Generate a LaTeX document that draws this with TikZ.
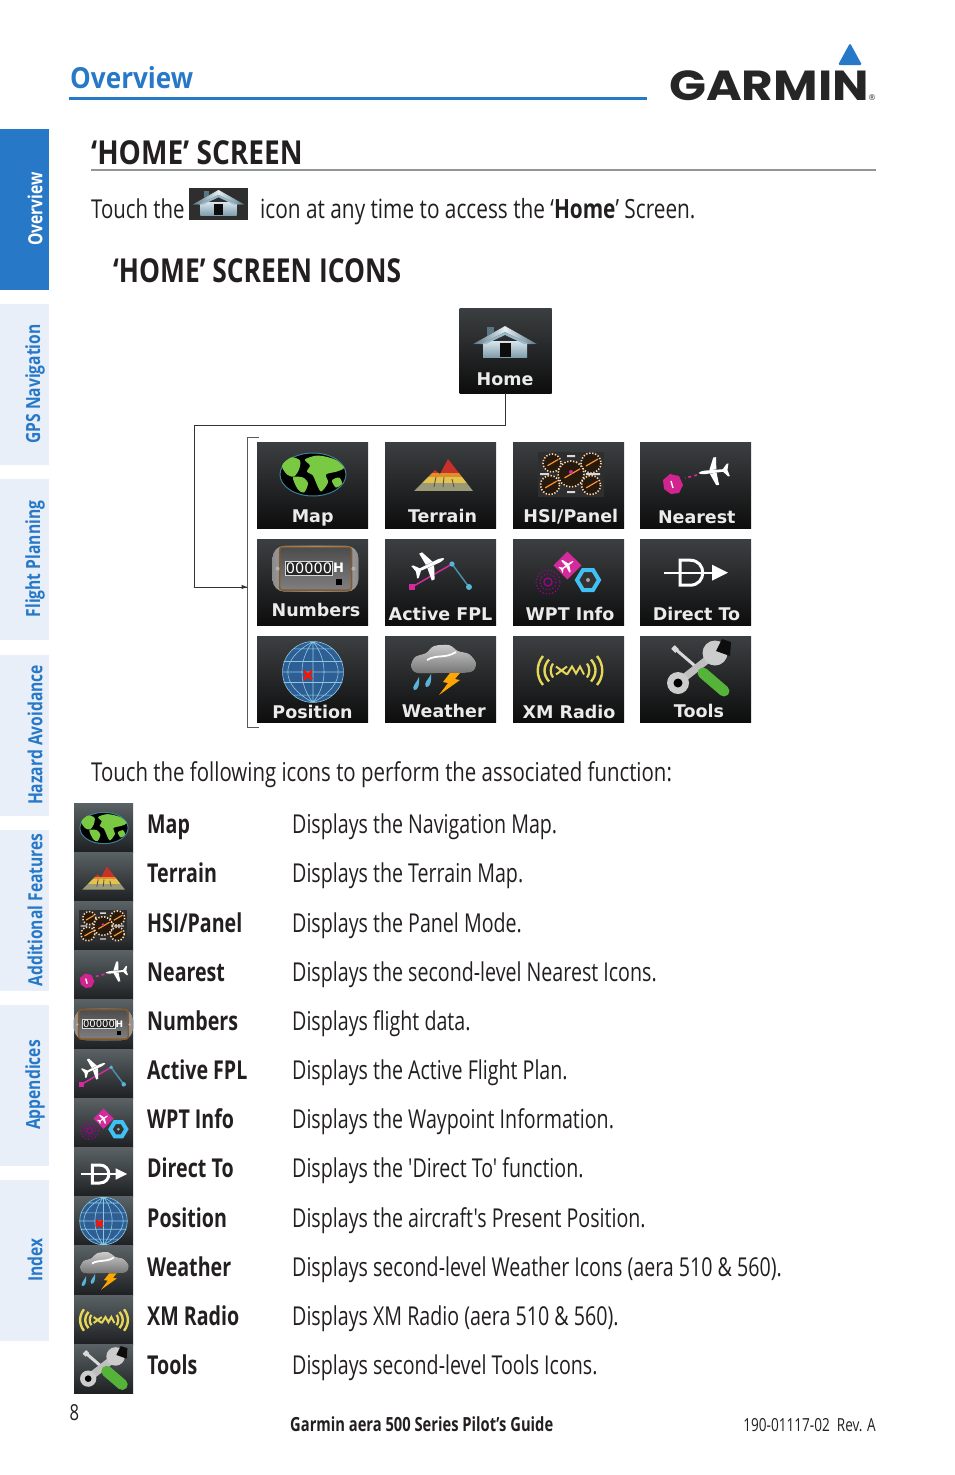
\documentclass[tikz,border=0pt]{standalone}
\usepackage{fontspec}
\setmainfont{Open Sans}
\newfontfamily\bodyfont[FakeStretch=0.755]{Open Sans}
\newfontfamily\parafont[FakeStretch=0.785]{Open Sans}
\newfontfamily\titlefont[FakeStretch=0.85]{Open Sans}
\newfontfamily\subtitlefont[FakeStretch=0.80]{Open Sans}
\newfontfamily\headfont[FakeStretch=0.90]{Open Sans}
\newfontfamily\tabfont[FakeStretch=0.80]{Open Sans}
\newfontfamily\buttonfont{DejaVu Sans}
\newfontfamily\logofont[FakeStretch=1.155]{Poppins}
\definecolor{garminblue}{HTML}{2878C8}
\definecolor{tabpale}{HTML}{E8EFF8}
\definecolor{inkgray}{HTML}{231F20}
\definecolor{rulegray}{HTML}{939598}
\definecolor{glow}{HTML}{3C3F41}
\definecolor{coal}{HTML}{0D0D0D}
\definecolor{listglow}{HTML}{5A6265}
\definecolor{listcoal}{HTML}{1E2022}
\definecolor{earth}{HTML}{7AC943}
\definecolor{hotpink}{HTML}{D42A9C}
\definecolor{skyblue}{HTML}{58B4D8}
\definecolor{housetone}{HTML}{7FA8BC}
\definecolor{globeblue}{HTML}{2E5E93}
\definecolor{xmyellow}{HTML}{E6D75A}
\definecolor{peakred}{HTML}{C8312A}
\definecolor{peakorange}{HTML}{DE8F2B}
\definecolor{peakyellow}{HTML}{E4C24E}
\definecolor{peaktan}{HTML}{9A9A78}
\definecolor{handlegreen}{HTML}{55B33A}
\tikzset{
	tabon/.style={rectangle, fill=garminblue, minimum width=49, minimum height=161, inner sep=0},
	taboff/.style={rectangle, fill=tabpale, minimum width=49, minimum height=161, inner sep=0},
	tabtext/.style={rotate=90, inner sep=0, font=\tabfont\bfseries\fontsize{19.5}{20}\selectfont, text=garminblue},
	iconbox/.style={rectangle, top color=glow, middle color=coal, bottom color=coal, minimum width=111, minimum height=86, inner sep=0},
	listbox/.style={rectangle, top color=listglow, middle color=listcoal, bottom color=listcoal, minimum width=59, minimum height=49.2, inner sep=0},
	buttontext/.style={inner sep=0, anchor=base, text=white!92!black, font=\buttonfont\bfseries\fontsize{17.5}{18}\selectfont},
	rowname/.style={anchor=base west, inner sep=0, text=inkgray, font=\bodyfont\bfseries\fontsize{26}{26}\selectfont},
	rowtext/.style={anchor=base west, inner sep=0, text=inkgray, font=\bodyfont\fontsize{26}{26}\selectfont},
	paratext/.style={anchor=base west, inner sep=0, text=inkgray, font=\parafont\fontsize{26}{26}\selectfont},
	connector/.style={draw=black!80, line width=1},
	pics/house/.style={code={
		\fill[top color=white!70!housetone, bottom color=housetone!75!gray] (-22,-1) rectangle (22,15);
		\fill[coal] (-5.5,1) rectangle (5.5,15);
		\fill[housetone!70!black] (-18,-15) rectangle (-11,-4);
		\fill[left color=housetone!70!black, right color=housetone!70!black, middle color=white!80!housetone] (-32,2) -- (0,-16) -- (32,2) -- (24,2) -- (0,-10) -- (-24,2) -- cycle;
		\fill[housetone!80!white] (-24,2) -- (0,-10) -- (24,2) -- (19,2) -- (0,-7) -- (-19,2) -- cycle;
	}},
	pics/plane/.style={code={
		\fill[white] (-24,-2) -- (14,-3) .. controls (20,-3) and (25,-1) .. (25,0) .. controls (25,1) and (20,3) .. (14,3) -- (-24,2) -- cycle;
		\fill[white] (6,-3) -- (-3,-24) -- (-8,-24) -- (-6,-3) -- cycle;
		\fill[white] (6,3) -- (-3,24) -- (-8,24) -- (-6,3) -- cycle;
		\fill[white] (-17,-2) -- (-25,-11) -- (-28,-11) -- (-25,0) -- (-28,11) -- (-25,11) -- (-17,2) -- cycle;
	}},
	pics/mapglyph/.style={code={
		\fill[black] (0,0) ellipse [x radius=33, y radius=21.5];
		\draw[skyblue!70!black, line width=1] (0,0) ellipse [x radius=33, y radius=21.5];
		\fill[earth] plot[smooth cycle] coordinates {(-31,-9) (-22,-17) (-13,-14) (-14,-5) (-19,2) (-26,0)};
		\fill[earth] plot[smooth cycle] coordinates {(-20,3) (-10,3) (-5,9) (-9,18) (-15,15)};
		\fill[earth] plot[smooth cycle] coordinates {(-8,-15) (5,-19) (22,-15) (31,-7) (24,-3) (13,0) (15,8) (8,17) (3,8) (0,1) (-6,-3) (-3,-9)};
		\fill[earth] plot[smooth cycle] coordinates {(19,6) (26,3) (29,9) (23,13)};
	}},
	pics/terrainglyph/.style={code={
		\begin{scope}
			\clip (-30,16) -- (-9,-5) -- (-4,-1) -- (4,-16) -- (29,16) -- cycle;
			\fill[peakred] (-32,-20) rectangle (32,-2);
			\fill[peakorange] (-32,-2) rectangle (32,2);
			\fill[peakyellow] (-32,2) rectangle (32,8);
			\fill[peaktan] (-32,8) rectangle (32,16);
		\end{scope}
		\draw[black!70, line width=.8] (-8,2) -- (-10,12) (0,2) -- (-1,12) (8,4) -- (10,12);
	}},
	pics/gaugedial/.style={code={
		\fill[black!80!brown] (0,0) circle [radius=#1];
		\draw[white!70!orange, line width=1.6, dash pattern=on 1.3 off 1.7] (0,0) circle [radius=#1];
		\draw[orange!85!white, line width=1.2] (-#1*.5,#1*.3) -- (#1*.7,-#1*.4);
	}},
	pics/hsiglyph/.style={code={
		\fill[black!82] (-33,-22) rectangle (33,22.5);
		\pic at (-19,-11) {gaugedial=9};
		\pic at (20,-11) {gaugedial=10};
		\pic at (-21,11) {gaugedial=9.5};
		\pic at (20,11) {gaugedial=9.5};
		\pic at (0,0) {gaugedial=13};
		\fill[hotpink] (0,-2) circle [radius=2];
		\fill[white!85!black] (-4,-19) rectangle (4,-17) (-4,17) rectangle (4,19) (-31,-1) rectangle (-22,1) (15,-1) rectangle (29,1);
	}},
	pics/nearestglyph/.style={code={
		\pic[scale=.58, rotate=186] at (18,-11.5) {plane};
		\draw[hotpink, line width=1.6, dashed] (2,-8) -- (-10,-5);
		\fill[hotpink!85!purple] (-32,-3) -- (-25,-9) -- (-16,-7) -- (-12,2) -- (-16,10) -- (-24,11) -- (-31,6) -- cycle;
		\draw[white, line width=1.4] (-24,-2) -- (-22,5);
	}},
	pics/numbersglyph/.style={code={
		\fill[left color=black!45, right color=black!45, middle color=white!85!black, rounded corners=12] (-43,-23) rectangle (43,23);
		\fill[top color=black!70, bottom color=black!50, draw=brown!70!black, line width=1.5, rounded corners=3] (-36,-21.5) rectangle (36,21.5);
		\fill[black!85, draw=white!85!black, line width=.8] (-30,-7.5) rectangle (17,6.5);
		\node[inner sep=0, text=white, font=\buttonfont\fontsize{14.5}{14}\selectfont] (digits) at (-6.5,-.5) {00000};
		\node[inner sep=0, font=\buttonfont\bfseries\fontsize{13}{14}\selectfont, text=white] (hours) at (23,-.5) {H};
		\fill[black!30] (-38,0) circle [radius=2] (38,0) circle [radius=2];
		\fill[black] (20,10) rectangle (26,16);
	}},
	pics/fplglyph/.style={code={
		\draw[hotpink, line width=1.5] (-29,18) -- (11,-5);
		\draw[skyblue!80!black, line width=1.5] (11,-5) -- (28,18);
		\fill[hotpink] (-32,15) rectangle (-26,21);
		\fill[skyblue] (28,18) circle [radius=3];
		\fill[skyblue] (11,-5) circle [radius=2.6];
		\pic[scale=.62, rotate=25] at (-11,-4) {plane};
	}},
	pics/wptglyph/.style={code={
		\fill[hotpink] (-.7,-18.5) -- (13.5,-4.7) -- (-.7,9.5) -- (-14.5,-4.7) -- cycle;
		\pic[scale=.3, rotate=35] at (-.7,-4.7) {plane};
		\draw[cyan!75!white, line width=4, fill=black!80] (9,10) -- (15,0) -- (25,0) -- (31,10) -- (25,20) -- (15,20) -- cycle;
		\fill[black!35] (20,10) circle [radius=2];
		\draw[violet!80!hotpink, line width=1.3, dotted] (-20,12) circle [radius=12];
		\draw[violet!80!hotpink, line width=1.3, dotted] (-20,12) circle [radius=8];
		\draw[violet!80!hotpink, line width=1.5] (-20,12) circle [radius=4];
	}},
	pics/directglyph/.style={code={
		\draw[white, line width=2.2] (-32,0) -- (18,0);
		\draw[white, line width=3] (-16,-12.5) -- (-6,-12.5) .. controls (11,-12.5) and (11,12.5) .. (-6,12.5) -- (-16,12.5) -- cycle;
		\fill[white] (16,-8) -- (32,0) -- (16,8) -- cycle;
	}},
	pics/positionglyph/.style={code={
		\fill[globeblue] (0,0) circle [radius=29];
		\draw[skyblue!70!white, line width=.6] (0,0) circle [radius=29]
			(-28,-10) -- (28,-10) (-29,0) -- (29,0) (-28,10) -- (28,10) (-19,-22) -- (19,-22) (-19,22) -- (19,22)
			(0,-29) -- (0,29) (0,-29) .. controls (-14,-12) and (-14,12) .. (0,29) (0,-29) .. controls (14,-12) and (14,12) .. (0,29)
			(0,-29) .. controls (-32,-12) and (-32,12) .. (0,29) (0,-29) .. controls (32,-12) and (32,12) .. (0,29);
		\draw[red!85!orange, line width=2.6] (-9,-1) -- (-1,7) (-9,7) -- (-1,-1);
	}},
	pics/weatherglyph/.style={code={
		\fill[top color=white!80!black, bottom color=black!55] plot[smooth cycle] coordinates {(-32,-4) (-28,-13) (-17,-17) (-9,-24) (6,-25) (15,-19) (26,-16) (33,-7) (28,2) (0,3) (-26,3)};
		\draw[white, line width=1.8] (-16,-10) .. controls (-6,-16) and (2,-11) .. (13,-18);
		\fill[skyblue] (-24,7) .. controls (-26,12) and (-32,17) .. (-29,20) .. controls (-25,21) and (-23,14) .. (-24,7) -- cycle;
		\fill[skyblue] (-12,4) .. controls (-14,9) and (-20,13) .. (-17,17) .. controls (-13,18) and (-11,11) .. (-12,4) -- cycle;
		\fill[orange!70!yellow] (7,3) -- (17,3) -- (12,9) -- (17,10) -- (-4,25) -- (5,13) -- (0,12) -- cycle;
	}},
	pics/xmglyph/.style={code={
		\draw[xmyellow, line width=2.4] (-27,-14.5) .. controls (-34,-6) and (-34,6) .. (-27,14.5) (27,-14.5) .. controls (34,-6) and (34,6) .. (27,14.5);
		\draw[xmyellow, line width=2.4] (-21,-11) .. controls (-27,-4) and (-27,4) .. (-21,11) (21,-11) .. controls (27,-4) and (27,4) .. (21,11);
		\draw[xmyellow, line width=2.2] (-17,-7) .. controls (-20,-3) and (-20,3) .. (-17,7) (17,-7) .. controls (20,-3) and (20,3) .. (17,7);
		\draw[xmyellow, line width=2] (-14,-4) -- (-3,4) (-14,4) -- (-3,-4) (-3,4) -- (2,-4) -- (6,3) -- (10,-4) -- (14,4);
	}},
	pics/toolsglyph/.style={code={
		\draw[white!85!black, line width=3] (-25,-23) -- (4,2);
		\draw[white!85!black, line width=5] (-25,-23) -- (-21,-19);
		\draw[white!75!black, line width=7.5] (-18,11) -- (14,-14);
		\fill[white!80!black] (-20,13) circle [radius=11];
		\fill[black] (-20,13) circle [radius=4.5];
		\fill[white!80!black] (17,-17) circle [radius=12.5];
		\fill[coal] (18,-19) -- (24,-31) -- (33,-28) -- (32,-14) -- cycle;
		\draw[handlegreen, line width=11, line cap=round] (5,3) -- (26,21);
	}}
}
\begin{document}
\begin{tikzpicture}[x=1pt, y=-1pt]
	\useasboundingbox (0,0) rectangle (954,1475);

	% header
	\node[anchor=base west, inner sep=0, text=garminblue, font=\headfont\bfseries\fontsize{29}{29}\selectfont] (overview) at (70,88) {Overview};
	\coordinate (headleft) at (69,98);
	\coordinate (headright) at (647,98);
	\draw[garminblue, line width=3] (headleft) -- (headright);
	\node[anchor=base west, inner sep=0, text=black!85, font=\logofont\bfseries\fontsize{42}{42}\selectfont] (garmin) at (669,100) {GARMIN};
	\node[anchor=base west, inner sep=0, text=black!85, font=\buttonfont\fontsize{8}{8}\selectfont] (regmark) at (868,100.5) {®};
	\fill[garminblue, rounded corners=1.5] (850,43) -- (862,65) -- (838,65) -- cycle;

	% tabs
	\node[tabon] (tab1) at (24.5,209.5) {};
	\node[taboff] (tab2) at (24.5,384.5) {};
	\node[taboff] (tab3) at (24.5,559.5) {};
	\node[taboff] (tab4) at (24.5,735) {};
	\node[taboff] (tab5) at (24.5,910) {};
	\node[taboff] (tab6) at (24.5,1085) {};
	\node[taboff] (tab7) at (24.5,1260) {};
	\node[tabtext, text=white] at (35,209) {Overview};
	\node[tabtext] at (35,384) {GPS Navigation};
	\node[tabtext] at (35,559) {Flight Planning};
	\node[tabtext] at (35,735) {Hazard Avoidance};
	\node[tabtext] at (35,910) {Additional Features};
	\node[tabtext] at (35,1085) {Appendices};
	\node[tabtext] at (35,1260) {Index};

	% title lines
	\node[anchor=base west, inner sep=0, text=inkgray, font=\titlefont\bfseries\fontsize{33}{33}\selectfont] (title) at (91,164) {‘HOME’ SCREEN};
	\coordinate (titleleft) at (91,170);
	\coordinate (titleright) at (876,170);
	\draw[rulegray, line width=1.5] (titleleft) -- (titleright);
	\node[paratext] (touch) at (91,218) {Touch the};
	\node[rectangle, fill=black!82, minimum width=59, minimum height=32, inner sep=0] (smallhome) at (218.5,204) {};
	\pic[scale=.82, transform shape] at (218.5,203) {house};
	\node[paratext, font=\parafont\fontsize{26.5}{26}\selectfont] (access) at (260,218) {icon at any time to access the ‘\textbf{Home}’ Screen.};
	\node[anchor=base west, inner sep=0, text=inkgray, font=\subtitlefont\bfseries\fontsize{33}{33}\selectfont] (subtitle) at (113,282) {‘HOME’ SCREEN ICONS};

	% home button
	\node[iconbox, minimum width=92, minimum height=85] (home) at (505.5,350.5) {};
	\pic at (505,342) {house};
	\node[buttontext] (homelabel) at (505,385) {Home};

	% button grid
	\node[iconbox] (map) at (312.5,485) {};
	\node[iconbox] (terrain) at (440.5,485) {};
	\node[iconbox] (hsi) at (568.5,485) {};
	\node[iconbox] (nearest) at (695.5,485) {};
	\node[iconbox] (numbers) at (312.5,582.5) {};
	\node[iconbox] (fpl) at (440.5,582.5) {};
	\node[iconbox] (wpt) at (568.5,582.5) {};
	\node[iconbox] (direct) at (695.5,582.5) {};
	\node[iconbox] (position) at (312.5,679.5) {};
	\node[iconbox] (weather) at (440.5,679.5) {};
	\node[iconbox] (xm) at (568.5,679.5) {};
	\node[iconbox] (tools) at (695.5,679.5) {};

	\pic at (313,474.5) {mapglyph};
	\pic at (444,475) {terrainglyph};
	\pic at (571,474) {hsiglyph};
	\pic at (695,483) {nearestglyph};
	\pic at (315.5,568.7) {numbersglyph};
	\pic at (441,569) {fplglyph};
	\pic at (568,570) {wptglyph};
	\pic at (696,572.7) {directglyph};
	\pic[scale=1.05] at (313,672) {positionglyph};
	\pic at (443,670) {weatherglyph};
	\pic at (570,670.5) {xmglyph};
	\pic at (698,670) {toolsglyph};

	\node[buttontext] at (312.7,522) {Map};
	\node[buttontext] at (442.5,522) {Terrain};
	\node[buttontext] at (570.8,522) {HSI/Panel};
	\node[buttontext] at (696.8,523) {Nearest};
	\node[buttontext] at (316,616.3) {Numbers};
	\node[buttontext] at (440.5,620) {Active FPL};
	\node[buttontext] at (570,620) {WPT Info};
	\node[buttontext] at (696.5,620) {Direct To};
	\node[buttontext] at (312.5,718) {Position};
	\node[buttontext] at (443.8,717) {Weather};
	\node[buttontext] at (569,718) {XM Radio};
	\node[buttontext] at (699,717) {Tools};

	% connector
	\coordinate (turnleft) at (194.5,425);
	\coordinate (grouptop) at (259,437);
	\coordinate (groupbottom) at (259,727);
	\coordinate (groupcorner) at (247.5,437);
	\coordinate (groupend) at (247.5,727);
	\coordinate (groupin) at (247.5,587);
	\draw[connector] (home.south) |- (turnleft) |- (groupin);
	\draw[connector, -latex] (turnleft |- groupin) -- (groupin);
	\draw[connector, black!65] (grouptop) -- (groupcorner) -- (groupend) -- (groupbottom);

	\node[paratext] (follow) at (91,781) {Touch the following icons to perform the associated function:};

	% list rows
	\node[listbox] (row1) at (103.5,827.6) {};
	\node[listbox] (row2) at (103.5,876.8) {};
	\node[listbox] (row3) at (103.5,926) {};
	\node[listbox] (row4) at (103.5,975.2) {};
	\node[listbox] (row5) at (103.5,1024.4) {};
	\node[listbox] (row6) at (103.5,1073.6) {};
	\node[listbox] (row7) at (103.5,1122.8) {};
	\node[listbox] (row8) at (103.5,1172) {};
	\node[listbox] (row9) at (103.5,1221.2) {};
	\node[listbox] (row10) at (103.5,1270.4) {};
	\node[listbox] (row11) at (103.5,1319.6) {};
	\node[listbox] (row12) at (103.5,1368.8) {};

	\pic[scale=.73, transform shape] at (104,828) {mapglyph};
	\pic[scale=.72, transform shape] at (104,878) {terrainglyph};
	\pic[scale=.72, transform shape] at (103,926) {hsiglyph};
	\pic[scale=.72, transform shape] at (103,980) {nearestglyph};
	\pic[scale=.69, transform shape] at (103.5,1024.4) {numbersglyph};
	\pic[scale=.74, transform shape] at (103,1071) {fplglyph};
	\pic[scale=.72, transform shape] at (104,1122) {wptglyph};
	\pic[scale=.72, transform shape] at (104,1174) {directglyph};
	\pic[scale=.82, transform shape] at (103.5,1221) {positionglyph};
	\pic[scale=.75, transform shape] at (104,1271) {weatherglyph};
	\pic[scale=.74, transform shape] at (104,1320) {xmglyph};
	\pic[scale=.74, transform shape] at (103,1369) {toolsglyph};

	\node[rowname] at (147,833) {Map};
	\node[rowname] at (147,882) {Terrain};
	\node[rowname] at (147,932) {HSI/Panel};
	\node[rowname] at (147,981) {Nearest};
	\node[rowname] at (147,1030) {Numbers};
	\node[rowname] at (147,1079) {Active FPL};
	\node[rowname] at (147,1128) {WPT Info};
	\node[rowname] at (147,1177) {Direct To};
	\node[rowname] at (147,1227) {Position};
	\node[rowname] at (147,1276) {Weather};
	\node[rowname] at (147,1325) {XM Radio};
	\node[rowname] at (147,1374) {Tools};

	\node[rowtext] at (292,833) {Displays the Navigation Map.};
	\node[rowtext] at (292,882) {Displays the Terrain Map.};
	\node[rowtext] at (292,932) {Displays the Panel Mode.};
	\node[rowtext] at (292,981) {Displays the second-level Nearest Icons.};
	\node[rowtext] at (292,1030) {Displays flight data.};
	\node[rowtext] at (292,1079) {Displays the Active Flight Plan.};
	\node[rowtext] at (292,1128) {Displays the Waypoint Information.};
	\node[rowtext] at (292,1177) {Displays the 'Direct To' function.};
	\node[rowtext] at (292,1227) {Displays the aircraft's Present Position.};
	\node[rowtext] at (292,1276) {Displays second-level Weather Icons (aera 510 \& 560).};
	\node[rowtext] at (292,1325) {Displays XM Radio (aera 510 \& 560).};
	\node[rowtext] at (292,1374) {Displays second-level Tools Icons.};

	% footer
	\node[anchor=base west, inner sep=0, text=inkgray, font=\bodyfont\fontsize{22}{22}\selectfont] (pagenum) at (69.5,1420) {8};
	\node[anchor=base west, inner sep=0, text=inkgray, font=\bodyfont\bfseries\fontsize{19.5}{19}\selectfont] (guide) at (290,1431) {Garmin aera 500 Series Pilot’s Guide};
	\node[anchor=base east, inner sep=0, text=inkgray, font=\bodyfont\fontsize{18}{18}\selectfont] (docnum) at (876,1431) {190-01117-02\ \ Rev. A};
\end{tikzpicture}
\end{document}
